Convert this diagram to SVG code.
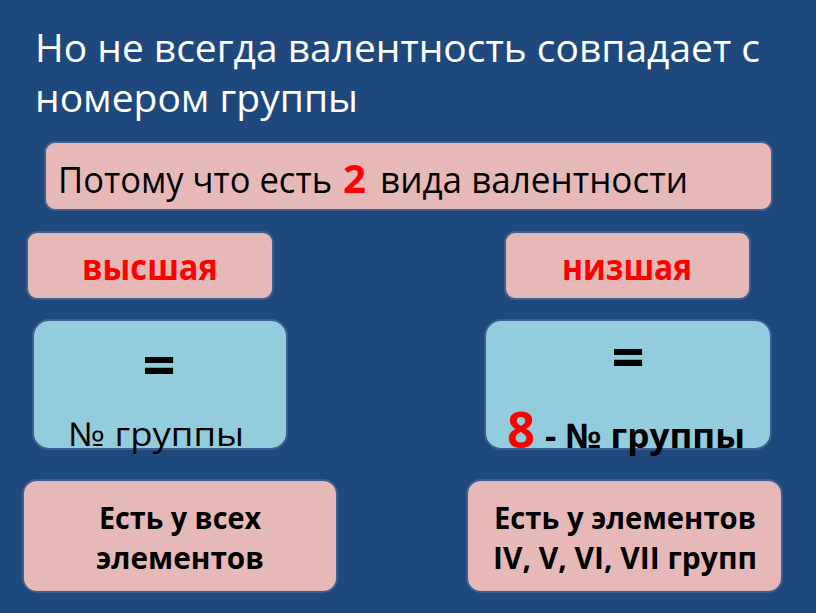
<svg xmlns="http://www.w3.org/2000/svg" width="816" height="613" viewBox="0 0 816 613">
<style>
.t{font-family:"Open Sans","Noto Sans","DejaVu Sans",sans-serif}
.pink{fill:#E6B9B8;stroke:#3C5F8F;stroke-width:2}
.blue{fill:#93CDDD;stroke:#3C5F8F;stroke-width:2}
.w{fill:#FFFFFF;font-size:39px}
.k{fill:#000000}
.r{fill:#FF0000}
.b{font-weight:bold}
</style>
<rect width="816" height="613" fill="#1F497D"/>
<g id="title">
<text class="t w" x="35" y="62" textLength="725" lengthAdjust="spacingAndGlyphs">Но не всегда валентность совпадает с</text>
<text class="t w" x="35" y="112" textLength="323" lengthAdjust="spacingAndGlyphs">номером группы</text>
</g>
<g id="reason">
<rect class="pink" x="45" y="142" width="727" height="68" rx="10"/>
<text class="t k" x="58" y="193" font-size="36" textLength="274" lengthAdjust="spacingAndGlyphs">Потому что есть</text>
<text class="t r b" x="343" y="193" font-size="40" textLength="23" lengthAdjust="spacingAndGlyphs">2</text>
<text class="t k" x="380" y="193" font-size="36" textLength="308" lengthAdjust="spacingAndGlyphs">вида валентности</text>
</g>
<g id="high">
<rect class="pink" x="27" y="232" width="246" height="67" rx="10"/>
<text class="t r b" x="150" y="280" font-size="36" text-anchor="middle" textLength="136" lengthAdjust="spacingAndGlyphs">высшая</text>
</g>
<g id="low">
<rect class="pink" x="505" y="232" width="245" height="67" rx="10"/>
<text class="t r b" x="627" y="280" font-size="36" text-anchor="middle" textLength="130" lengthAdjust="spacingAndGlyphs">низшая</text>
</g>
<g id="high-eq">
<rect class="blue" x="33" y="320" width="254" height="129" rx="16"/>
<text class="t k b" x="159" y="386" font-size="58" text-anchor="middle">=</text>
<text class="t k" x="156" y="446" font-size="33" text-anchor="middle" textLength="176" lengthAdjust="spacingAndGlyphs">№ группы</text>
</g>
<g id="low-eq">
<rect class="blue" x="485" y="320" width="286" height="129" rx="16"/>
<text class="t k b" x="628" y="378" font-size="58" text-anchor="middle">=</text>
<text class="t r b" x="507" y="448" font-size="50" textLength="28" lengthAdjust="spacingAndGlyphs">8</text>
<text class="t k b" x="545" y="448" font-size="34" textLength="200" lengthAdjust="spacingAndGlyphs">- № группы</text>
</g>
<g id="high-note">
<rect class="pink" x="23" y="480" width="314" height="112" rx="14"/>
<text class="t k b" x="180" y="529" font-size="31" text-anchor="middle" textLength="162" lengthAdjust="spacingAndGlyphs">Есть у всех</text>
<text class="t k b" x="180" y="569" font-size="31" text-anchor="middle" textLength="168" lengthAdjust="spacingAndGlyphs">элементов</text>
</g>
<g id="low-note">
<rect class="pink" x="467" y="480" width="315" height="112" rx="14"/>
<text class="t k b" x="625" y="529" font-size="31" text-anchor="middle" textLength="262" lengthAdjust="spacingAndGlyphs">Есть у элементов</text>
<text class="t k b" x="625" y="569" font-size="31" text-anchor="middle" textLength="264" lengthAdjust="spacingAndGlyphs">IV, V, VI, VII групп</text>
</g>
</svg>
